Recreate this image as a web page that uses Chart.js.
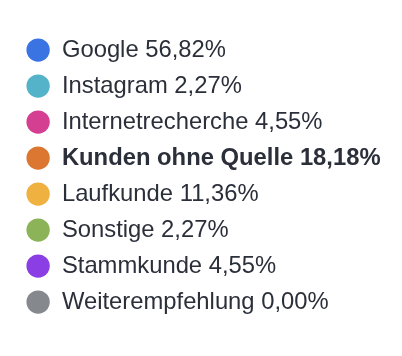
<!DOCTYPE html>
<html>
<head>
<meta charset="utf-8">
<script src="https://cdn.jsdelivr.net/npm/chart.js@4"></script>
<style>
  html, body { margin: 0; padding: 0; background: #ffffff; }
  #wrap { position: relative; width: 402px; height: 356px; }
</style>
</head>
<body>
<div id="wrap"><canvas id="c"></canvas></div>
<script>
// ---- data ----
const categories = ['Google', 'Instagram', 'Internetrecherche', 'Kunden ohne Quelle', 'Laufkunde', 'Sonstige', 'Stammkunde', 'Weiterempfehlung'];
const shares = [56.82, 2.27, 4.55, 18.18, 11.36, 2.27, 4.55, 0.00];
const sliceColors = ['#3a73e2', '#54b3c9', '#d43f91', '#db7731', '#efb13f', '#8cb357', '#8b3ee3', '#85898e'];
const emphasized = ['Kunden ohne Quelle'];

// ---- styles ----
const textColor = '#2b2f3a';
const fontFamily = "'Liberation Sans', Arial, Helvetica, sans-serif";
const fontSize = 23.8;

function pct(v) { return v.toFixed(2).replace('.', ',') + '%'; }
function labelText(i) { return categories[i] + ' ' + pct(shares[i]); }

const boldLegendItems = {
  id: 'boldLegendItems',
  afterDraw(chart) {
    const legend = chart.legend;
    if (!legend || !legend.legendHitBoxes) return;
    const opts = legend.options.labels;
    const ctx = chart.ctx;
    ctx.save();
    ctx.font = 'bold ' + fontSize + 'px ' + fontFamily;
    ctx.fillStyle = textColor;
    ctx.textAlign = 'left';
    ctx.textBaseline = 'middle';
    legend.legendItems.forEach((item, i) => {
      if (!emphasized.includes(categories[item.index])) return;
      const hb = legend.legendHitBoxes[i];
      ctx.fillText(item.text, hb.left + opts.boxWidth + fontSize / 2, hb.top + fontSize / 2);
    });
    ctx.restore();
  }
};

new Chart(document.getElementById('c'), {
  type: 'doughnut',
  data: {
    labels: categories,
    datasets: [{
      data: shares,
      backgroundColor: sliceColors,
      borderWidth: 0
    }]
  },
  options: {
    responsive: true,
    maintainAspectRatio: false,
    animation: false,
    events: [],
    layout: { padding: { top: 26, left: 14, right: 200, bottom: 0 } },
    plugins: {
      tooltip: { enabled: false },
      legend: {
        position: 'left',
        align: 'start',
        maxWidth: 2000,
        labels: {
          usePointStyle: true,
          pointStyle: 'circle',
          boxWidth: 23.8,
          boxHeight: 16.5,
          padding: 12.2,
          color: textColor,
          font: { family: fontFamily, size: fontSize, weight: 'normal' },
          generateLabels(chart) {
            const ds = chart.data.datasets[0];
            return chart.data.labels.map((lab, i) => ({
              text: labelText(i),
              fillStyle: ds.backgroundColor[i],
              strokeStyle: ds.backgroundColor[i],
              lineWidth: 0,
              pointStyle: 'circle',
              fontColor: emphasized.includes(lab) ? 'rgba(0,0,0,0)' : textColor,
              hidden: !chart.getDataVisibility(i),
              index: i
            }));
          }
        }
      }
    }
  },
  plugins: [boldLegendItems]
});
</script>
</body>
</html>
